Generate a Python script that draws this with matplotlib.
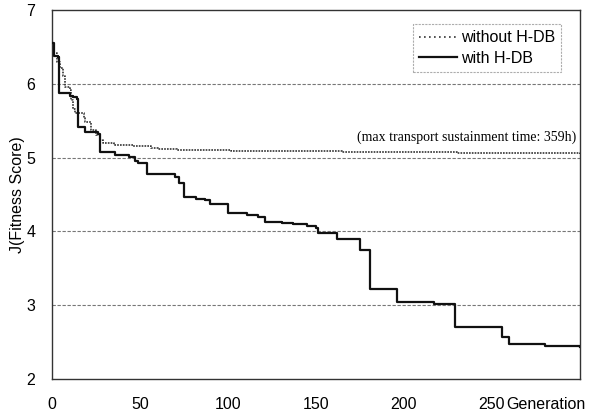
import matplotlib
matplotlib.use("Agg")
import matplotlib.pyplot as plt
from matplotlib.lines import Line2D

# ---- data ----
gen_with = [0, 1, 3.5, 4, 10, 12, 14, 14.5, 19, 26, 27.5, 36, 44, 47, 49, 54, 70,
            72, 75, 82, 87, 90, 100, 111, 117, 121, 131, 137, 145, 150, 151, 162,
            175, 181, 196, 217, 229, 256, 260, 280, 300]
fit_with = [6.55, 6.38, 6.36, 5.87, 5.84, 5.82, 5.80, 5.41, 5.35, 5.32, 5.07, 5.04, 5.01, 4.95,
            4.92, 4.78, 4.74, 4.66, 4.47, 4.44, 4.42, 4.37, 4.25, 4.22, 4.20, 4.13,
            4.12, 4.10, 4.07, 4.04, 3.98, 3.89, 3.75, 3.22, 3.04, 3.01, 2.70, 2.57,
            2.47, 2.45, 2.44]

gen_without = [0, 1, 3, 4.5, 6, 7.5, 10, 11, 12, 13, 18, 19, 22, 25, 27, 29, 35,
               46, 56, 60, 71, 102, 165, 230, 300]
fit_without = [6.55, 6.42, 6.30, 6.22, 6.10, 5.96, 5.92, 5.78, 5.66, 5.61, 5.53,
               5.48, 5.38, 5.30, 5.24, 5.20, 5.17, 5.16, 5.13, 5.11, 5.10, 5.09,
               5.07, 5.06, 5.05]

x_ticks = [0, 50, 100, 150, 200, 250]
y_ticks = [2, 3, 4, 5, 6, 7]
labels = ["without H-DB", "with H-DB"]
note = "(max transport sustainment time: 359h)"

plt.rcParams['font.family'] = ['Liberation Sans', 'DejaVu Sans']

fig = plt.figure(figsize=(5.93, 4.16), dpi=100)
ax = fig.add_axes([0.0877, 0.089, 0.890, 0.887])

ax.set_xlim(0, 300)
ax.set_ylim(2, 7)

for yv in y_ticks[1:-1]:
    ax.axhline(yv, color='#777777', lw=0.8, ls=(0, (3, 1.5)), zorder=1)

ax.plot(gen_without, fit_without, drawstyle='steps-post', color='#333333',
        lw=1.2, ls=(0, (1, 0.7)), zorder=2)
ax.plot(gen_with, fit_with, drawstyle='steps-post', color='#111111', lw=1.6, zorder=3)

for s in ax.spines.values():
    s.set_color('#333333')
    s.set_linewidth(1.0)

ax.set_xticks(x_ticks)
ax.set_yticks(y_ticks)
ax.tick_params(axis='both', length=0, labelsize=11.5)
ax.tick_params(axis='x', pad=13)
ax.tick_params(axis='y', pad=12)
ax.annotate("Generation", xy=(258, 0), xycoords=('data', 'axes fraction'),
            xytext=(0, -13), textcoords='offset points', ha='left', va='top',
            fontsize=11.5)
ax.set_ylabel("J(Fitness Score)", fontsize=11.5, labelpad=1)

ax.text(0.993, 5.27, note, transform=ax.get_yaxis_transform(), ha='right',
        va='center', fontsize=10, family=['Liberation Serif'])

handles = [Line2D([], [], color='#333333', lw=1.2, ls=(0, (1, 2))),
           Line2D([], [], color='#111111', lw=1.6)]
leg = ax.legend(handles, labels, loc='upper right', bbox_to_anchor=(0.965, 0.962),
                fontsize=11.5, frameon=True, fancybox=False, handlelength=2.4,
                handletextpad=0.2, borderpad=0.4, labelspacing=0.35,
                borderaxespad=0)
leg.get_frame().set_edgecolor('#999999')
leg.get_frame().set_linewidth(0.8)
leg.get_frame().set_linestyle((0, (2, 1)))

fig.savefig("out.png", dpi=100)
